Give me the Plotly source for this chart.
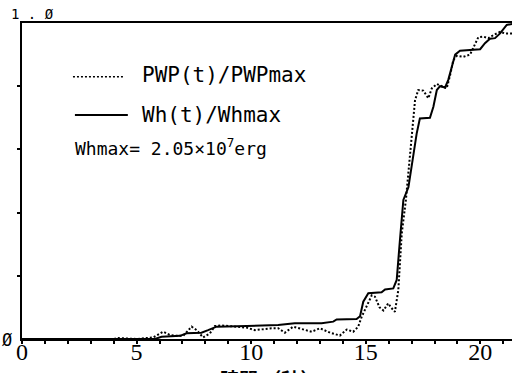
import plotly.graph_objects as go

# Time axis (seconds) and normalised Wh(t)/Whmax (solid curve)
t_wh = [0, 5.8, 6.09, 6.9, 7.18, 7.83, 8.12, 8.49, 9.8, 11.18, 11.9, 13.07, 13.58,
        13.73, 14.6, 14.75, 14.89, 15.11, 15.69, 15.84, 16.2, 16.35, 16.49, 16.64,
        16.86, 17.0, 17.22, 17.36, 17.8, 17.95, 18.1, 18.24, 18.46, 18.6, 18.75,
        18.9, 19.11, 19.99, 20.2, 20.42, 20.64, 20.86, 21.15, 21.4]
wh = [0, 0, 0.007, 0.01, 0.018, 0.02, 0.028, 0.039, 0.041, 0.044, 0.05, 0.05, 0.055,
      0.062, 0.063, 0.072, 0.118, 0.145, 0.148, 0.157, 0.16, 0.187, 0.313, 0.44,
      0.48, 0.545, 0.65, 0.698, 0.70, 0.735, 0.788, 0.80, 0.796, 0.82, 0.862,
      0.90, 0.912, 0.917, 0.936, 0.95, 0.952, 0.967, 0.994, 0.997]

# Normalised PWP(t)/PWPmax (dotted curve)
t_pwp = [0, 4.0, 4.2, 5.0, 5.72, 6.16, 6.45, 6.74, 7.03, 7.4, 7.62, 7.9, 8.2, 8.42,
         8.7, 9.15, 9.5, 9.8, 10.16, 10.45, 10.89, 11.18, 11.47, 11.83, 12.2, 12.64,
         13.0, 13.44, 13.87, 14.17, 14.45, 14.67, 14.82, 15.04, 15.26, 15.4, 15.6,
         15.77, 15.98, 16.1, 16.27, 16.42, 16.57, 16.75, 17.0, 17.15, 17.29, 17.51,
         17.73, 17.88, 18.1, 18.31, 18.53, 18.68, 18.82, 18.97, 19.26, 19.55, 19.7,
         19.91, 20.13, 20.35, 20.57, 20.86, 21.08, 21.4]
pwp = [0, 0, 0.003, 0, 0.005, 0.023, 0.013, 0.01, 0.01, 0.039, 0.028, 0.005, 0.018,
       0.041, 0.043, 0.041, 0.039, 0.036, 0.028, 0.031, 0.034, 0.034, 0.02, 0.039,
       0.031, 0.023, 0.034, 0.02, 0.011, 0.03, 0.023, 0.039, 0.07, 0.105, 0.138,
       0.134, 0.1, 0.09, 0.113, 0.1, 0.086, 0.155, 0.334, 0.44, 0.65, 0.756, 0.788,
       0.786, 0.762, 0.793, 0.807, 0.80, 0.793, 0.835, 0.883, 0.896, 0.893, 0.90,
       0.925, 0.955, 0.957, 0.952, 0.962, 0.972, 0.967, 0.967]

x_ticks = list(range(22))
x_labels = [str(v) if v % 5 == 0 else "" for v in x_ticks]
y_ticks = [0.2, 0.4, 0.6, 0.8]

MONO = "DejaVu Sans Mono"

fig = go.Figure()
fig.add_trace(go.Scatter(x=t_pwp, y=pwp, mode="lines", name="PWP(t)/PWPmax",
                         line=dict(color="black", width=2, dash="2px,2px")))
fig.add_trace(go.Scatter(x=t_wh, y=wh, mode="lines", name="Wh(t)/Whmax",
                         line=dict(color="black", width=2)))

fig.update_layout(
    width=512, height=373,
    margin=dict(l=22, r=0, t=23, b=34),
    paper_bgcolor="white", plot_bgcolor="white",
    showlegend=False,
    xaxis=dict(range=[0, 21.38], tickvals=x_ticks, ticktext=x_labels,
               ticks="outside", ticklen=3, tickwidth=2, tickcolor="black",
               ticklabelposition="outside", ticklabelstandoff=-13,
               showline=True, linecolor="black", linewidth=2, mirror=True,
               showgrid=False, zeroline=False,
               tickfont=dict(family="Liberation Serif", size=24, color="black")),
    yaxis=dict(range=[0, 1], tickvals=y_ticks, ticktext=["", "", "", ""],
               ticks="outside", ticklen=3, tickwidth=2, tickcolor="black",
               showline=True, linecolor="black", linewidth=2,
               showgrid=False, zeroline=False),
)

# Legend samples
fig.add_shape(type="line", xref="paper", yref="paper", x0=0.104, x1=0.206,
              y0=0.830, y1=0.830, line=dict(color="black", width=1.5, dash="2px,2px"))
fig.add_shape(type="line", xref="paper", yref="paper", x0=0.108, x1=0.216,
              y0=0.709, y1=0.709, line=dict(color="black", width=2))

def note(text, x, y, size, family=MONO, xanchor="left", yanchor="middle"):
    fig.add_annotation(text=text, x=x, y=y, xref="paper", yref="paper",
                       xanchor=xanchor, yanchor=yanchor, showarrow=False,
                       font=dict(family=family, size=size, color="black"))

note("PWP(t)/PWPmax", 0.2408, 0.834, 21)
note("Wh(t)/Whmax", 0.2408, 0.709, 21)
note("Whmax= 2.05×10<sup>7</sup>erg", 0.104, 0.608, 18)

# Axis end labels
note("1\u00a0.\u00a0Ø", -0.027, 1.030, 14)
note("Ø", -0.0296, -0.003, 17, xanchor="center")

# X axis title
note("<b>時間 （秒）</b>", 0.506, -0.075, 19, family="Noto Sans CJK JP",
     xanchor="center", yanchor="top")

fig.write_html("out.html")
